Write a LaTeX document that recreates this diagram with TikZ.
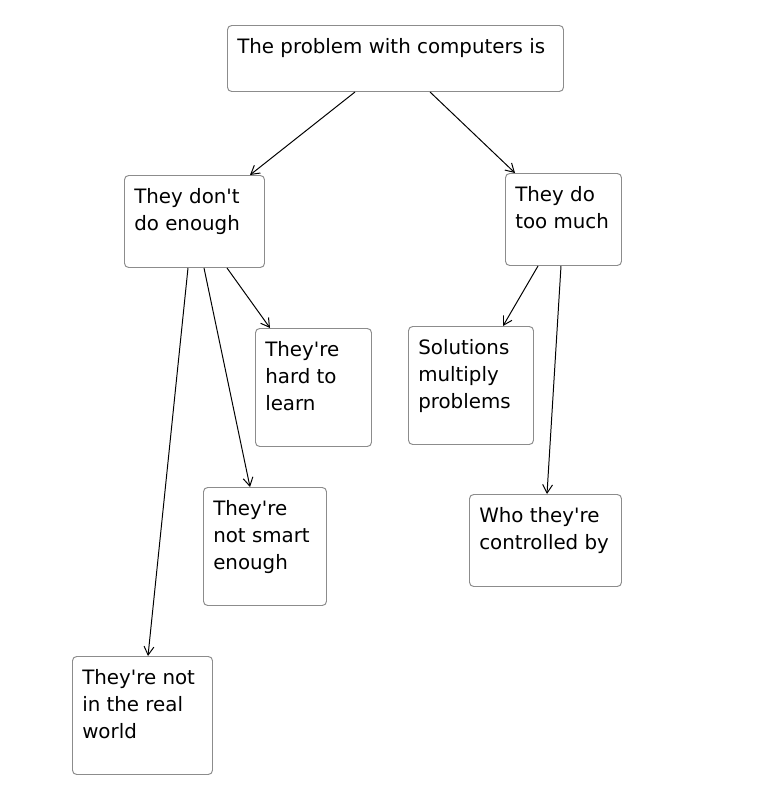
\documentclass[tikz,border=0pt]{standalone}
\usepackage{fontspec}
\setmainfont{DejaVu Sans}
\usepackage{tikz}
\usetikzlibrary{
  arrows.meta,
  positioning
}
\tikzset{
  cardbox/.style={draw=gray!90, line width=0.7pt, rounded corners=3pt,
    anchor=north west, inner sep=0pt},
  cardtext/.style={anchor=north west, inner sep=0pt, align=left,
    xshift=0.25cm, yshift=-0.34cm, font=\fontsize{14.1}{19.2}\selectfont},
  arr/.style={-{Straight Barb[length=6pt,width=7pt]}, line width=0.7pt},
}
\newcommand{\apos}{\textquotesingle}

\begin{document}
\begin{tikzpicture}
  \useasboundingbox (0,0) rectangle (18.9,-19.975);

  % top statement
  \node[cardbox, minimum width=8.4cm, minimum height=1.65cm,
    label={[cardtext]north west:The problem with computers is}]
    (root) at (5.675,-0.625) {};

  % two sides
  \node[cardbox, minimum width=3.5cm, minimum height=2.3cm,
    label={[cardtext]north west:They don\apos t\\do enough}]
    (little) at (3.1,-4.375) {};
  \node[cardbox, minimum width=2.9cm, minimum height=2.3cm,
    label={[cardtext]north west:They do\\too much}]
    (much) at (12.625,-4.325) {};

  % reasons for not enough
  \node[cardbox, minimum width=2.9cm, minimum height=2.95cm,
    label={[cardtext]north west:They\apos re\\hard to\\learn}]
    (hard) at (6.375,-8.2) {};
  \node[cardbox, minimum width=3.075cm, minimum height=2.95cm,
    label={[cardtext]north west:They\apos re\\not smart\\enough}]
    (smart) at (5.075,-12.175) {};
  \node[cardbox, minimum width=3.5cm, minimum height=2.95cm,
    label={[cardtext]north west:They\apos re not\\in the real\\world}]
    (real) at (1.8,-16.4) {};

  % reasons for too much
  \node[cardbox, minimum width=3.125cm, minimum height=2.95cm,
    label={[cardtext]north west:Solutions\\multiply\\problems}]
    (multiply) at (10.2,-8.15) {};
  \node[cardbox, minimum width=3.8cm, minimum height=2.3cm,
    label={[cardtext]north west:Who they\apos re\\controlled by}]
    (control) at (11.725,-12.35) {};

  % Arrows
  \draw[arr] ([xshift=3.2cm]root.south west) -- ([xshift=3.15cm]little.north west);
  \draw[arr] ([xshift=5.075cm]root.south west) -- ([xshift=0.25cm]much.north west);
  \draw[arr] ([xshift=2.575cm]little.south west) -- ([xshift=0.375cm]hard.north west);
  \draw[arr] ([xshift=2cm]little.south west) -- ([xshift=1.175cm]smart.north west);
  \draw[arr] ([xshift=1.6cm]little.south west) -- ([xshift=1.9cm]real.north west);
  \draw[arr] ([xshift=0.825cm]much.south west) -- ([xshift=2.375cm]multiply.north west);
  \draw[arr] ([xshift=1.4cm]much.south west) -- ([xshift=1.95cm]control.north west);
\end{tikzpicture}
\end{document}
